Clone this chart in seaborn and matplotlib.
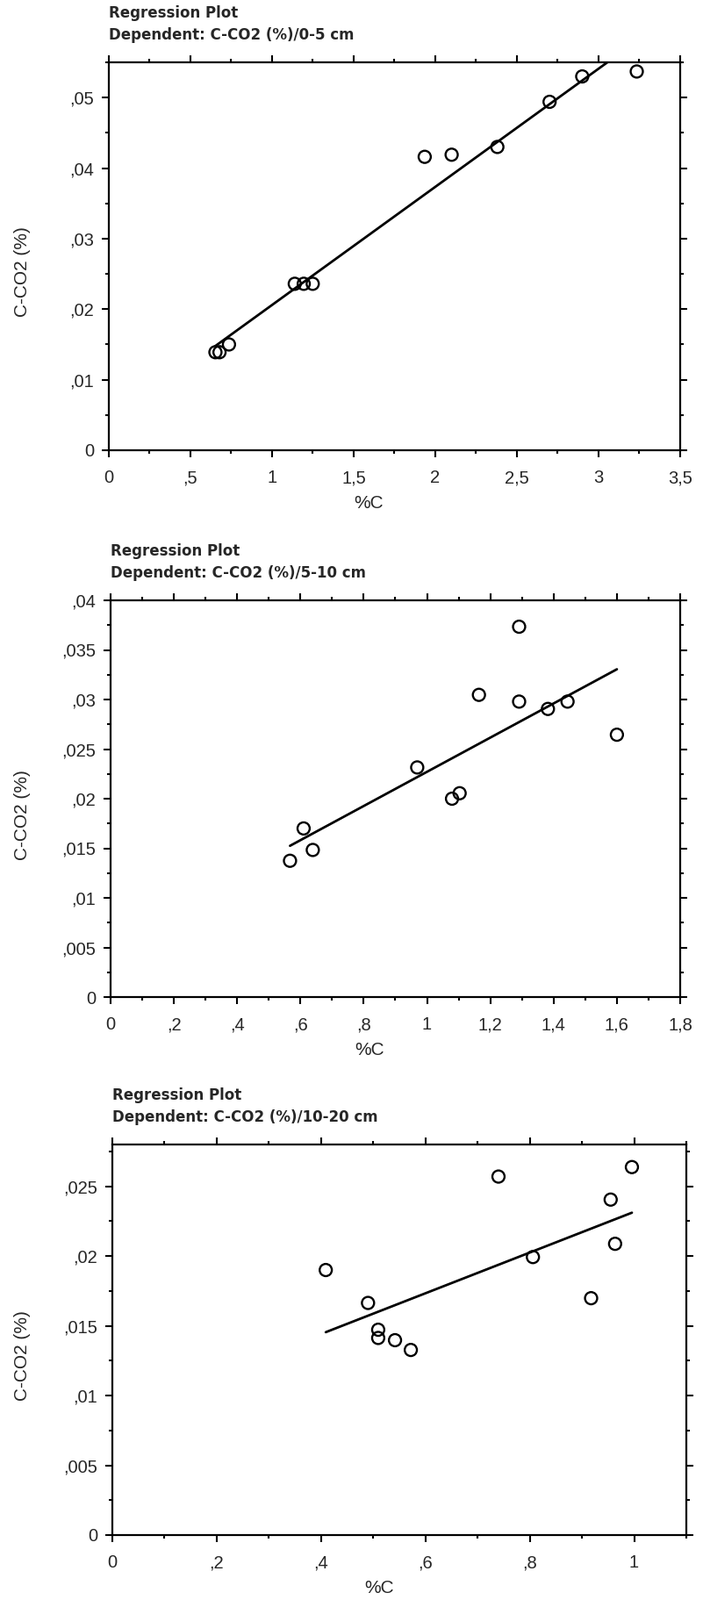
import matplotlib
matplotlib.use("Agg")
import matplotlib.pyplot as plt
import seaborn as sns
import numpy as np
import pandas as pd
from matplotlib.ticker import FixedLocator, FixedFormatter, MultipleLocator

# ---------------- data ----------------
# Panel 1: 0-5 cm
x1 = [0.653, 0.678, 0.736, 1.139, 1.194, 1.249, 1.935, 2.10, 2.38, 2.70, 2.90, 3.234]
y1 = [0.0139, 0.0139, 0.0150, 0.0236, 0.0236, 0.0236, 0.0416, 0.0419, 0.0430, 0.0494, 0.0530, 0.0537]
# Panel 2: 5-10 cm
x2 = [0.567, 0.610, 0.639, 0.969, 1.079, 1.103, 1.164, 1.291, 1.291, 1.382, 1.444, 1.600]
y2 = [0.01374, 0.0170, 0.01483, 0.02315, 0.0200, 0.02055, 0.03047, 0.03734, 0.02979, 0.02905, 0.02979, 0.02645]
# Panel 3: 10-20 cm
x3 = [0.409, 0.490, 0.5095, 0.5095, 0.5417, 0.572, 0.740, 0.806, 0.9175, 0.955, 0.9635, 0.9957]
y3 = [0.0190, 0.01664, 0.01472, 0.01413, 0.01397, 0.01327, 0.0257, 0.01993, 0.01698, 0.02405, 0.02088, 0.02638]

titles = ["Regression Plot", "Regression Plot", "Regression Plot"]
subtitles = ["Dependent: C-CO2 (%)/0-5 cm",
             "Dependent: C-CO2 (%)/5-10 cm",
             "Dependent: C-CO2 (%)/10-20 cm"]
xlabel_text = "%C"
ylabel_text = "C-CO2 (%)"

xt1 = [0, 0.5, 1, 1.5, 2, 2.5, 3, 3.5]
xl1 = ["0", ",5", "1", "1,5", "2", "2,5", "3", "3,5"]
yt1 = [0, 0.01, 0.02, 0.03, 0.04, 0.05]
yl1 = ["0", ",01", ",02", ",03", ",04", ",05"]

xt2 = [0, 0.2, 0.4, 0.6, 0.8, 1.0, 1.2, 1.4, 1.6, 1.8]
xl2 = ["0", ",2", ",4", ",6", ",8", "1", "1,2", "1,4", "1,6", "1,8"]
yt2 = [0, 0.005, 0.01, 0.015, 0.02, 0.025, 0.03, 0.035, 0.04]
yl2 = ["0", ",005", ",01", ",015", ",02", ",025", ",03", ",035", ",04"]

xt3 = [0, 0.2, 0.4, 0.6, 0.8, 1.0]
xl3 = ["0", ",2", ",4", ",6", ",8", "1"]
yt3 = [0, 0.005, 0.01, 0.015, 0.02, 0.025]
yl3 = ["0", ",005", ",01", ",015", ",02", ",025"]

xlims = [(0, 3.5), (0, 1.8), (0, 1.1)]
ylims = [(0, 0.055), (0, 0.04), (0, 0.028)]
xminor = [0.25, 0.1, 0.1]
yminor = [0.005, 0.0025, 0.0025]

# ---------------- style ----------------
sns.set_style("ticks")
plt.rcParams["font.family"] = ["Liberation Sans", "DejaVu Sans"]

W, H = 801, 1823
fig = plt.figure(figsize=(W / 100, H / 100), dpi=100)

# axes boxes in pixels: left, top, right, bottom
boxes = [(124, 71, 775, 513), (126, 684, 775, 1136), (128, 1304, 782, 1749)]
xlabel_pos = [0.455, 0.455, 0.465]

datasets = [(x1, y1), (x2, y2), (x3, y3)]
xticks = [(xt1, xl1), (xt2, xl2), (xt3, xl3)]
yticks = [(yt1, yl1), (yt2, yl2), (yt3, yl3)]

for i in range(3):
    l, t, r, b = boxes[i]
    ax = fig.add_axes([l / W, 1 - b / H, (r - l) / W, (b - t) / H])
    xs, ys = datasets[i]
    df = pd.DataFrame({"x": xs, "y": ys})
    sns.regplot(data=df, x="x", y="y", ax=ax, ci=None, truncate=True,
                scatter_kws=dict(facecolors="none", edgecolors="black", s=100,
                                 linewidths=1.7, alpha=1, zorder=3),
                line_kws=dict(color="black", lw=2.0, zorder=2))
    ax.set_xlim(*xlims[i])
    ax.set_ylim(*ylims[i])

    ax.xaxis.set_major_locator(FixedLocator(xticks[i][0]))
    ax.xaxis.set_major_formatter(FixedFormatter(xticks[i][1]))
    ax.yaxis.set_major_locator(FixedLocator(yticks[i][0]))
    ax.yaxis.set_major_formatter(FixedFormatter(yticks[i][1]))
    ax.xaxis.set_minor_locator(MultipleLocator(xminor[i]))
    ax.yaxis.set_minor_locator(MultipleLocator(yminor[i]))

    ax.tick_params(which="both", direction="out", top=True, right=True,
                   labeltop=False, labelright=False, color="black", width=1.5)
    ax.tick_params(which="major", length=6)
    ax.tick_params(which="minor", length=3)
    ax.tick_params(axis="x", which="major", labelsize=14.5, pad=10)
    ax.tick_params(axis="y", which="major", labelsize=14.5, pad=6)

    for sp in ax.spines.values():
        sp.set_visible(True)
        sp.set_linewidth(1.6)
        sp.set_color("black")

    ax.set_xlabel(xlabel_text, fontsize=15, labelpad=7, x=xlabel_pos[i])
    ax.set_ylabel(ylabel_text, fontsize=15)
    ax.yaxis.set_label_coords((35 - l) / (r - l), 0.46)

    ax.annotate(titles[i], xy=(0, 1), xycoords="axes fraction",
                xytext=(0, 56), textcoords="offset pixels",
                ha="left", va="center", fontsize=12, fontweight="bold",
                family=["DejaVu Sans"])
    ax.annotate(subtitles[i], xy=(0, 1), xycoords="axes fraction",
                xytext=(0, 31), textcoords="offset pixels",
                ha="left", va="center", fontsize=12, fontweight="bold",
                family=["DejaVu Sans"])

fig.savefig("out.png", dpi=100, facecolor="white")
